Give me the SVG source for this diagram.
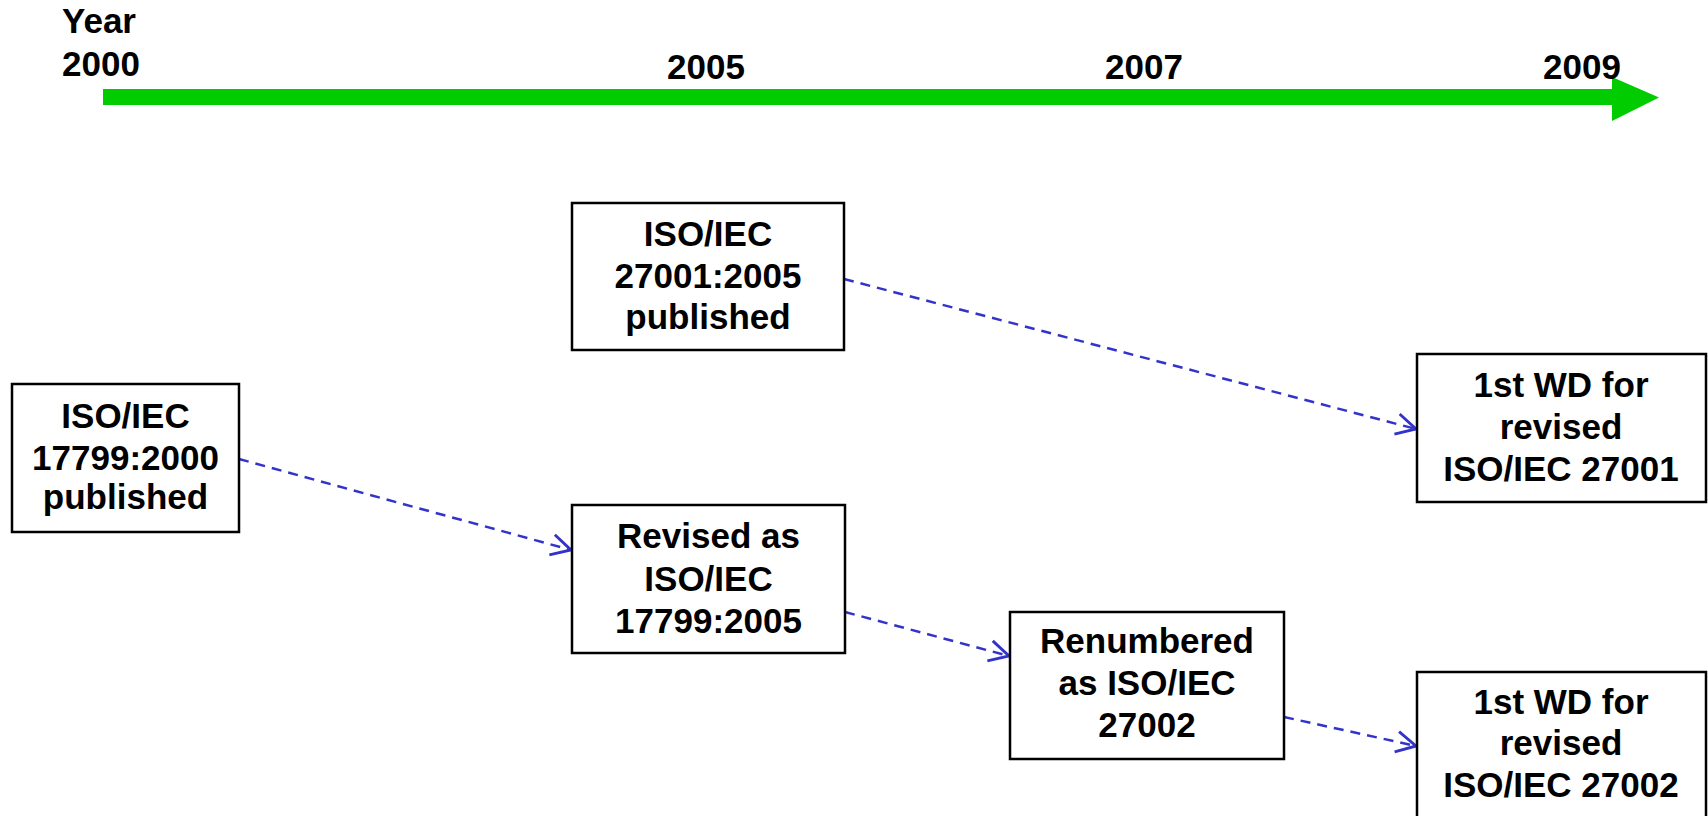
<svg xmlns="http://www.w3.org/2000/svg" width="1708" height="816" viewBox="0 0 1708 816">
<style>
text{font-family:"Liberation Sans",Arial,sans-serif;font-weight:bold;font-size:35px;fill:#000}
.c{text-anchor:middle}
.box{fill:#fff;stroke:#000;stroke-width:2.5}
.conn{fill:none;stroke:#3333cc;stroke-width:2.5;stroke-dasharray:10 7}
</style>
<defs>
<marker id="arr" markerUnits="userSpaceOnUse" markerWidth="30" markerHeight="30" viewBox="-22 -12 26 24" refX="0" refY="0" orient="auto">
<path d="M-17,-9 L0,0 L-17,9" fill="none" stroke="#3333cc" stroke-width="2.5"/>
</marker>
</defs>
<rect width="1708" height="816" fill="#fff"/>
<g id="timeline">
<path d="M103,89 H1612 V77 L1659,97.5 L1612,121 V105 H103 Z" fill="#00cc00"/>
<text x="62" y="33">Year</text>
<text x="62" y="76">2000</text>
<text class="c" x="706" y="79">2005</text>
<text class="c" x="1144" y="79">2007</text>
<text class="c" x="1582" y="79">2009</text>
</g>
<g id="connectors">
<line class="conn" x1="239" y1="459" x2="571" y2="550" marker-end="url(#arr)"/>
<line class="conn" x1="844" y1="279" x2="1416" y2="429" marker-end="url(#arr)"/>
<line class="conn" x1="845" y1="612" x2="1009" y2="656" marker-end="url(#arr)"/>
<line class="conn" x1="1284" y1="717" x2="1416" y2="746" marker-end="url(#arr)"/>
</g>
<g id="n1">
<rect class="box" x="12" y="384" width="227" height="148"/>
<text class="c" x="125.5" y="428">ISO/IEC</text>
<text class="c" x="125.5" y="470">17799:2000</text>
<text class="c" x="125.5" y="509">published</text>
</g>
<g id="n2">
<rect class="box" x="572" y="203" width="272" height="147"/>
<text class="c" x="708" y="246">ISO/IEC</text>
<text class="c" x="708" y="288">27001:2005</text>
<text class="c" x="708" y="329">published</text>
</g>
<g id="n3">
<rect class="box" x="572" y="505" width="273" height="148"/>
<text class="c" x="708.5" y="548">Revised as</text>
<text class="c" x="708.5" y="591">ISO/IEC</text>
<text class="c" x="708.5" y="633">17799:2005</text>
</g>
<g id="n4">
<rect class="box" x="1010" y="612" width="274" height="147"/>
<text class="c" x="1147" y="653">Renumbered</text>
<text class="c" x="1147" y="695">as ISO/IEC</text>
<text class="c" x="1147" y="737">27002</text>
</g>
<g id="n5">
<rect class="box" x="1417" y="354" width="289" height="148"/>
<text class="c" x="1561" y="397">1st WD for</text>
<text class="c" x="1561" y="439">revised</text>
<text class="c" x="1561" y="481">ISO/IEC 27001</text>
</g>
<g id="n6">
<rect class="box" x="1417" y="672" width="289" height="148"/>
<text class="c" x="1561" y="714">1st WD for</text>
<text class="c" x="1561" y="755">revised</text>
<text class="c" x="1561" y="797">ISO/IEC 27002</text>
</g>
</svg>
